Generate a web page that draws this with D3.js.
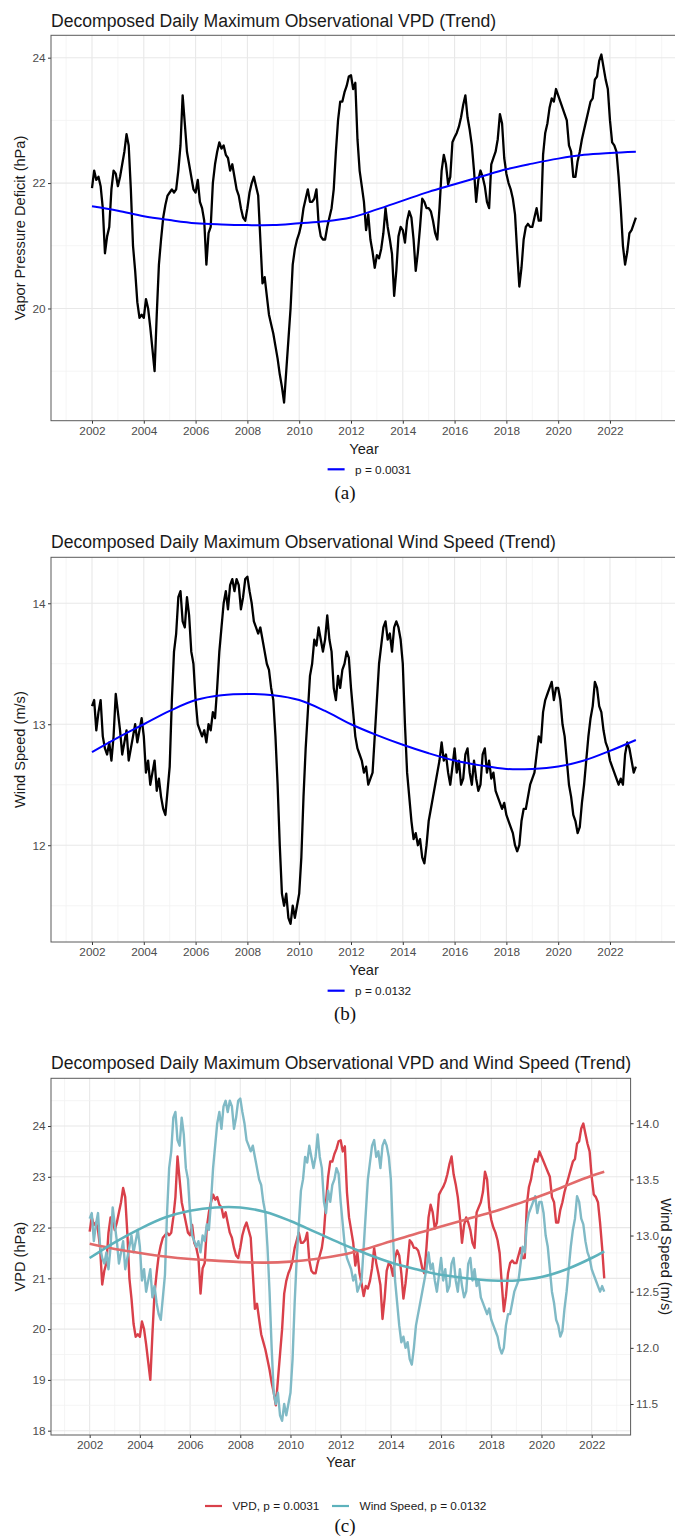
<!DOCTYPE html>
<html>
<head>
<meta charset="utf-8">
<script src="https://cdn.jsdelivr.net/npm/d3@7"></script>
<style>
  body { margin: 0; background: #fff; }
  svg { display: block; }
  text { font-family: "Liberation Sans", Arial, Helvetica, sans-serif; }
</style>
</head>
<body>
<svg id="fig" width="675" height="1539"></svg>
<script>
// ---- data: monthly trend component, first value = Jan 2002 ----
const startYear = 2002;
const perYear = 12;

const vpdValues = [
  21.92, 22.20, 22.05, 22.10, 21.95, 21.60, 20.88, 21.15, 21.30, 21.90, 22.20, 22.15,
  21.95, 22.10, 22.30, 22.50, 22.78, 22.60, 21.90, 21.00, 20.60, 20.10, 19.85, 19.90,
  19.85, 20.15, 20.00, 19.70, 19.35, 19.00, 19.90, 20.70, 21.10, 21.45, 21.65, 21.80,
  21.85, 21.90, 21.85, 21.90, 22.20, 22.60, 23.40, 22.95, 22.50, 22.30, 22.10, 21.90,
  21.85, 22.05, 21.70, 21.60, 21.40, 20.70, 21.20, 21.30, 22.00, 22.30, 22.50, 22.65,
  22.55, 22.60, 22.45, 22.40, 22.20, 22.30, 22.10, 21.90, 21.80, 21.60, 21.45, 21.40,
  21.60, 21.85, 22.00, 22.10, 21.95, 21.80, 21.10, 20.40, 20.50, 20.20, 19.90, 19.75,
  19.60, 19.40, 19.20, 18.95, 18.75, 18.50, 19.00, 19.50, 20.00, 20.70, 20.95, 21.10,
  21.20, 21.35, 21.60, 21.75, 21.90, 21.70, 21.70, 21.75, 21.90, 21.35, 21.15, 21.10,
  21.10, 21.30, 21.45, 21.60, 21.90, 22.50, 23.00, 23.30, 23.30, 23.45, 23.55, 23.70,
  23.72, 23.50, 23.60, 22.70, 22.20, 21.95, 21.70, 21.25, 21.50, 21.10, 20.90, 20.65,
  20.85, 20.80, 20.95, 21.20, 21.60, 21.30, 21.10, 20.87, 20.20, 20.60, 21.15, 21.30,
  21.25, 21.05, 21.40, 21.55, 21.45, 21.10, 20.60, 20.90, 21.30, 21.75, 21.70, 21.60,
  21.60, 21.55, 21.40, 21.20, 21.10, 21.60, 22.20, 22.45, 22.30, 21.98, 22.10, 22.65,
  22.73, 22.80, 22.90, 23.05, 23.25, 23.40, 23.05, 22.85, 22.60, 22.20, 21.70, 22.05,
  22.20, 22.10, 21.95, 21.70, 21.60, 22.30, 22.40, 22.50, 22.70, 23.10, 22.95, 22.40,
  22.15, 22.00, 21.90, 21.75, 21.50, 20.90, 20.35, 20.65, 21.10, 21.30, 21.35, 21.30,
  21.30, 21.45, 21.60, 21.40, 21.40, 22.45, 22.80, 22.95, 23.20, 23.35, 23.30, 23.50,
  23.40, 23.30, 23.20, 23.10, 23.00, 22.60, 22.50, 22.10, 22.10, 22.35, 22.50, 22.70,
  22.85, 23.00, 23.15, 23.30, 23.35, 23.65, 23.70, 23.95, 24.05, 23.85, 23.65, 23.50,
  23.00, 22.65, 22.60, 22.50, 22.10, 21.60, 21.00, 20.70, 20.90, 21.20, 21.25, 21.35,
  21.45
];

const windValues = [
  13.15, 13.20, 12.95, 13.10, 13.20, 12.90, 12.80, 12.75, 12.85, 12.70, 12.90, 13.25,
  13.10, 12.95, 12.75, 12.85, 12.95, 12.70, 12.80, 12.90, 13.00, 12.85, 12.95, 13.05,
  12.90, 12.60, 12.70, 12.50, 12.60, 12.70, 12.45, 12.55, 12.40, 12.30, 12.25, 12.45,
  12.65, 13.20, 13.60, 13.75, 14.05, 14.10, 13.85, 13.80, 14.05, 13.90, 13.60, 13.50,
  13.20, 13.00, 12.95, 12.90, 12.95, 12.85, 13.00, 12.95, 13.10, 13.05, 13.30, 13.60,
  13.80, 14.00, 14.10, 13.95, 14.15, 14.20, 14.10, 14.20, 14.15, 13.95, 14.05, 14.20,
  14.22, 14.10, 14.00, 13.85, 13.80, 13.75, 13.80, 13.70, 13.60, 13.50, 13.45, 13.30,
  13.20, 12.90, 12.50, 12.00, 11.60, 11.50, 11.60, 11.40, 11.35, 11.50, 11.40, 11.50,
  11.60, 11.90, 12.40, 12.80, 13.10, 13.40, 13.50, 13.70, 13.65, 13.80, 13.70, 13.60,
  13.70, 13.90, 13.70, 13.60, 13.30, 13.20, 13.40, 13.30, 13.45, 13.50, 13.60, 13.55,
  13.30, 13.10, 12.90, 12.80, 12.75, 12.70, 12.60, 12.65, 12.50, 12.55, 12.60, 12.90,
  13.20, 13.50, 13.65, 13.80, 13.85, 13.70, 13.75, 13.60, 13.80, 13.85, 13.80, 13.70,
  13.50, 13.00, 12.60, 12.40, 12.20, 12.05, 12.10, 12.00, 12.05, 11.90, 11.85, 12.00,
  12.20, 12.30, 12.40, 12.50, 12.60, 12.70, 12.85, 12.70, 12.75, 12.60, 12.50, 12.65,
  12.80, 12.60, 12.70, 12.50, 12.55, 12.75, 12.80, 12.60, 12.50, 12.70, 12.55, 12.45,
  12.50, 12.75, 12.80, 12.60, 12.70, 12.55, 12.60, 12.45, 12.40, 12.35, 12.30, 12.35,
  12.25, 12.20, 12.15, 12.10, 12.00, 11.95, 12.00, 12.20, 12.30, 12.30, 12.40, 12.50,
  12.55, 12.60, 12.75, 12.90, 12.85, 13.10, 13.20, 13.25, 13.30, 13.35, 13.20, 13.30,
  13.30, 13.20, 13.00, 12.90, 12.70, 12.50, 12.40, 12.25, 12.20, 12.10, 12.15, 12.35,
  12.50, 12.70, 12.90, 13.05, 13.15, 13.35, 13.30, 13.15, 13.10, 12.95, 12.85, 12.80,
  12.70, 12.65, 12.60, 12.55, 12.50, 12.55, 12.50, 12.75, 12.85, 12.80, 12.70, 12.60,
  12.65
];

// smoothed fits, one value per year
const trendYears   = [2002, 2003, 2004, 2005, 2006, 2007, 2008, 2009, 2010, 2011, 2012,
                      2013, 2014, 2015, 2016, 2017, 2018, 2019, 2020, 2021, 2022, 2023];
const vpdTrend     = [21.63, 21.56, 21.47, 21.41, 21.36, 21.34, 21.33, 21.33, 21.36, 21.39, 21.45,
                      21.58, 21.72, 21.86, 21.98, 22.10, 22.22, 22.31, 22.39, 22.45, 22.48, 22.50];
const windTrend    = [12.77, 12.89, 13.00, 13.11, 13.20, 13.24, 13.25, 13.24, 13.20, 13.11, 13.00,
                      12.91, 12.83, 12.76, 12.70, 12.66, 12.63, 12.63, 12.65, 12.70, 12.78, 12.87];

// combined panel: series end mid-2022
const comboEnd     = 2022.5;
const comboYears   = [2002, 2003, 2004, 2005, 2006, 2007, 2008, 2009, 2010, 2011, 2012,
                      2013, 2014, 2015, 2016, 2017, 2018, 2019, 2020, 2021, 2022, 2022.5];
const vpdTrendC    = [21.68, 21.58, 21.50, 21.43, 21.38, 21.35, 21.32, 21.31, 21.33, 21.38, 21.46,
                      21.58, 21.73, 21.88, 22.02, 22.16, 22.30, 22.46, 22.63, 22.83, 23.02, 23.10];
const windTrendC   = [12.80, 12.94, 13.06, 13.16, 13.22, 13.25, 13.25, 13.21, 13.13, 13.03, 12.93,
                      12.84, 12.76, 12.70, 12.65, 12.62, 12.60, 12.60, 12.63, 12.70, 12.80, 12.86];

const yearTicks    = [2002, 2004, 2006, 2008, 2010, 2012, 2014, 2016, 2018, 2020, 2022];
const vpdTicksA    = [20, 22, 24];
const windTicksB   = [12, 13, 14];
const vpdTicksC    = [18, 19, 20, 21, 22, 23, 24];
const windTicksC   = [11.5, 12.0, 12.5, 13.0, 13.5, 14.0];

const pA = "p = 0.0031", pB = "p = 0.0132";

// ---- drawing ----
const svg = d3.select("#fig");
const series = arr => arr.map((v, i) => ({ t: startYear + i / perYear, v }));
const vpd = series(vpdValues);
const wind = series(windValues);
const zip = (ts, vs) => ts.map((t, i) => ({ t, v: vs[i] }));

const COL = {
  grid: "#e8e8e8", gridMinor: "#f2f2f2", border: "#5a5a5a",
  tick: "#333", tickText: "#4d4d4d", text: "#1a1a1a",
  vpdC: "#d9404a", vpdTrendC: "#e26a6a", windC: "#80bac6", windTrendC: "#5db2bc"
};

function panel(cfg) {
  const { id, left, right, top, bottom, xDom, yDom } = cfg;
  const g = svg.append("g");
  const x = d3.scaleLinear().domain(xDom).range([left, right]);
  const y = d3.scaleLinear().domain(yDom).range([bottom, top]);

  g.append("clipPath").attr("id", id).append("rect")
    .attr("x", left).attr("y", top).attr("width", right - left).attr("height", bottom - top);

  // grid lines
  const years = d3.range(Math.ceil(xDom[0]), Math.floor(xDom[1]) + 1);
  g.append("g").selectAll("line").data(years).join("line")
    .attr("x1", d => x(d)).attr("x2", d => x(d)).attr("y1", top).attr("y2", bottom)
    .attr("stroke", d => yearTicks.includes(d) ? COL.grid : COL.gridMinor)
    .attr("stroke-width", d => yearTicks.includes(d) ? 1.1 : 0.8);
  g.append("g").selectAll("line").data(cfg.yMinor).join("line")
    .attr("x1", left).attr("x2", right).attr("y1", d => y(d)).attr("y2", d => y(d))
    .attr("stroke", COL.gridMinor).attr("stroke-width", 0.8);
  g.append("g").selectAll("line").data(cfg.yTicks).join("line")
    .attr("x1", left).attr("x2", right).attr("y1", d => y(d)).attr("y2", d => y(d))
    .attr("stroke", COL.grid).attr("stroke-width", 1.1);

  const plot = g.append("g").attr("clip-path", `url(#${id})`);

  // axes
  const xAxis = g.append("g").attr("transform", `translate(0,${bottom})`)
    .call(d3.axisBottom(x).tickValues(yearTicks).tickFormat(d3.format("d"))
      .tickSizeInner(3).tickSizeOuter(0).tickPadding(2.5));
  const yAxis = g.append("g").attr("transform", `translate(${left},0)`)
    .call(d3.axisLeft(y).tickValues(cfg.yTicks).tickFormat(cfg.yFmt || d3.format("d"))
      .tickSizeInner(3).tickSizeOuter(0).tickPadding(2.5));
  [xAxis, yAxis].forEach(a => {
    a.select(".domain").remove();
    a.selectAll(".tick line").attr("stroke", COL.tick).attr("stroke-width", 1);
    a.selectAll(".tick text").attr("fill", COL.tickText).style("font-size", "11.8px")
      .style("font-family", '"Liberation Sans", Arial, sans-serif');
  });

  // title, axis titles
  g.append("text").attr("x", left).attr("y", cfg.titleY).attr("fill", COL.text)
    .style("font-size", "17.6px").text(cfg.title);
  g.append("text").attr("x", cfg.xTitleX).attr("y", cfg.xTitleY).attr("text-anchor", "middle")
    .attr("fill", COL.text).style("font-size", "14.6px").text("Year");
  g.append("text").attr("transform", `translate(25,${(top + bottom) / 2}) rotate(-90)`)
    .attr("text-anchor", "middle").attr("fill", COL.text).style("font-size", "14.6px")
    .text(cfg.yTitle);

  return { g, plot, x, y };
}

function legendItem(g, x0, y0, color, label) {
  g.append("line").attr("x1", x0).attr("x2", x0 + 17).attr("y1", y0).attr("y2", y0)
    .attr("stroke", color).attr("stroke-width", 2.2);
  g.append("text").attr("x", x0 + 27.5).attr("y", y0 + 4.2).attr("fill", COL.text)
    .style("font-size", "11.8px").text(label);
}

function caption(txt, cx, yb) {
  svg.append("text").attr("x", cx).attr("y", yb).attr("text-anchor", "middle")
    .style("font-family", '"Liberation Serif", "Times New Roman", serif')
    .style("font-size", "19px").attr("fill", "#111").text(txt);
}

const lineOf = (x, y) => d3.line().x(d => x(d.t)).y(d => y(d.v));
const smoothOf = (x, y) => d3.line().x(d => x(d.t)).y(d => y(d.v)).curve(d3.curveCatmullRom);

// (a) VPD
{
  const P = panel({
    id: "clipA", left: 51, right: 676.8, top: 35.3, bottom: 420.7,
    xDom: [2000.417, 2024.58], yDom: [18.21, 24.357],
    yTicks: vpdTicksA, yMinor: [19, 21, 23],
    title: "Decomposed Daily Maximum Observational VPD (Trend)", titleY: 26.5,
    xTitleX: 364, xTitleY: 453.5, yTitle: "Vapor Pressure Deficit (hPa)"
  });
  P.plot.append("path").datum(vpd).attr("d", lineOf(P.x, P.y))
    .attr("fill", "none").attr("stroke", "#000").attr("stroke-width", 2.3).attr("stroke-linejoin", "round");
  P.plot.append("path").datum(zip(trendYears, vpdTrend)).attr("d", smoothOf(P.x, P.y))
    .attr("fill", "none").attr("stroke", "#0000ff").attr("stroke-width", 2);
  P.g.append("rect").attr("x", 51).attr("y", 35.3).attr("width", 625.8).attr("height", 385.4)
    .attr("fill", "none").attr("stroke", COL.border).attr("stroke-width", 1);
  legendItem(P.g, 327.6, 469.3, "#0000ff", pA);
  caption("(a)", 345, 499);
}

// (b) Wind speed
{
  const P = panel({
    id: "clipB", left: 51, right: 676.8, top: 557.3, bottom: 942,
    xDom: [2000.417, 2024.58], yDom: [11.2, 14.38],
    yTicks: windTicksB, yMinor: [11.5, 12.5, 13.5],
    title: "Decomposed Daily Maximum Observational Wind Speed (Trend)", titleY: 548,
    xTitleX: 364, xTitleY: 975, yTitle: "Wind Speed (m/s)"
  });
  P.plot.append("path").datum(wind).attr("d", lineOf(P.x, P.y))
    .attr("fill", "none").attr("stroke", "#000").attr("stroke-width", 2.3).attr("stroke-linejoin", "round");
  P.plot.append("path").datum(zip(trendYears, windTrend)).attr("d", smoothOf(P.x, P.y))
    .attr("fill", "none").attr("stroke", "#0000ff").attr("stroke-width", 2);
  P.g.append("rect").attr("x", 51).attr("y", 557.3).attr("width", 625.8).attr("height", 384.7)
    .attr("fill", "none").attr("stroke", COL.border).attr("stroke-width", 1);
  legendItem(P.g, 327.6, 990.7, "#0000ff", pB);
  caption("(b)", 345, 1020);
}

// (c) both series, wind on a secondary axis
{
  const P = panel({
    id: "clipC", left: 51, right: 630.6, top: 1078.3, bottom: 1435,
    xDom: [2000.46, 2023.55], yDom: [17.915, 24.94],
    yTicks: vpdTicksC, yMinor: [18.5, 19.5, 20.5, 21.5, 22.5, 23.5, 24.5],
    title: "Decomposed Daily Maximum Observational VPD and Wind Speed (Trend)", titleY: 1069,
    xTitleX: 340.8, xTitleY: 1467, yTitle: "VPD (hPa)"
  });
  const y2 = d3.scaleLinear().domain([11.224, 14.40]).range([1435, 1078.3]);
  const inCombo = d => d.t <= comboEnd + 1e-9;

  P.plot.append("path").datum(vpd.filter(inCombo)).attr("d", lineOf(P.x, P.y))
    .attr("fill", "none").attr("stroke", COL.vpdC).attr("stroke-width", 2.4).attr("stroke-linejoin", "round");
  P.plot.append("path").datum(wind.filter(inCombo)).attr("d", lineOf(P.x, y2))
    .attr("fill", "none").attr("stroke", COL.windC).attr("stroke-width", 2.4).attr("stroke-linejoin", "round");
  P.plot.append("path").datum(zip(comboYears, vpdTrendC)).attr("d", smoothOf(P.x, P.y))
    .attr("fill", "none").attr("stroke", COL.vpdTrendC).attr("stroke-width", 2.6);
  P.plot.append("path").datum(zip(comboYears, windTrendC)).attr("d", smoothOf(P.x, y2))
    .attr("fill", "none").attr("stroke", COL.windTrendC).attr("stroke-width", 2.6);

  P.g.append("rect").attr("x", 51).attr("y", 1078.3).attr("width", 579.6).attr("height", 356.7)
    .attr("fill", "none").attr("stroke", COL.border).attr("stroke-width", 1);

  const rAxis = P.g.append("g").attr("transform", "translate(630.6,0)")
    .call(d3.axisRight(y2).tickValues(windTicksC).tickFormat(d3.format(".1f"))
      .tickSizeInner(3).tickSizeOuter(0).tickPadding(2.5));
  rAxis.select(".domain").remove();
  rAxis.selectAll(".tick line").attr("stroke", COL.tick);
  rAxis.selectAll(".tick text").attr("fill", COL.tickText).style("font-size", "11.8px");
  P.g.append("text").attr("transform", `translate(661,${(1078.3 + 1435) / 2}) rotate(90)`)
    .attr("text-anchor", "middle").attr("fill", COL.text).style("font-size", "14.6px")
    .text("Wind Speed (m/s)");

  legendItem(P.g, 205, 1506, COL.vpdC, "VPD, " + pA);
  legendItem(P.g, 332, 1506, COL.windTrendC, "Wind Speed, " + pB);
  caption("(c)", 345, 1532);
}
</script>
</body>
</html>
